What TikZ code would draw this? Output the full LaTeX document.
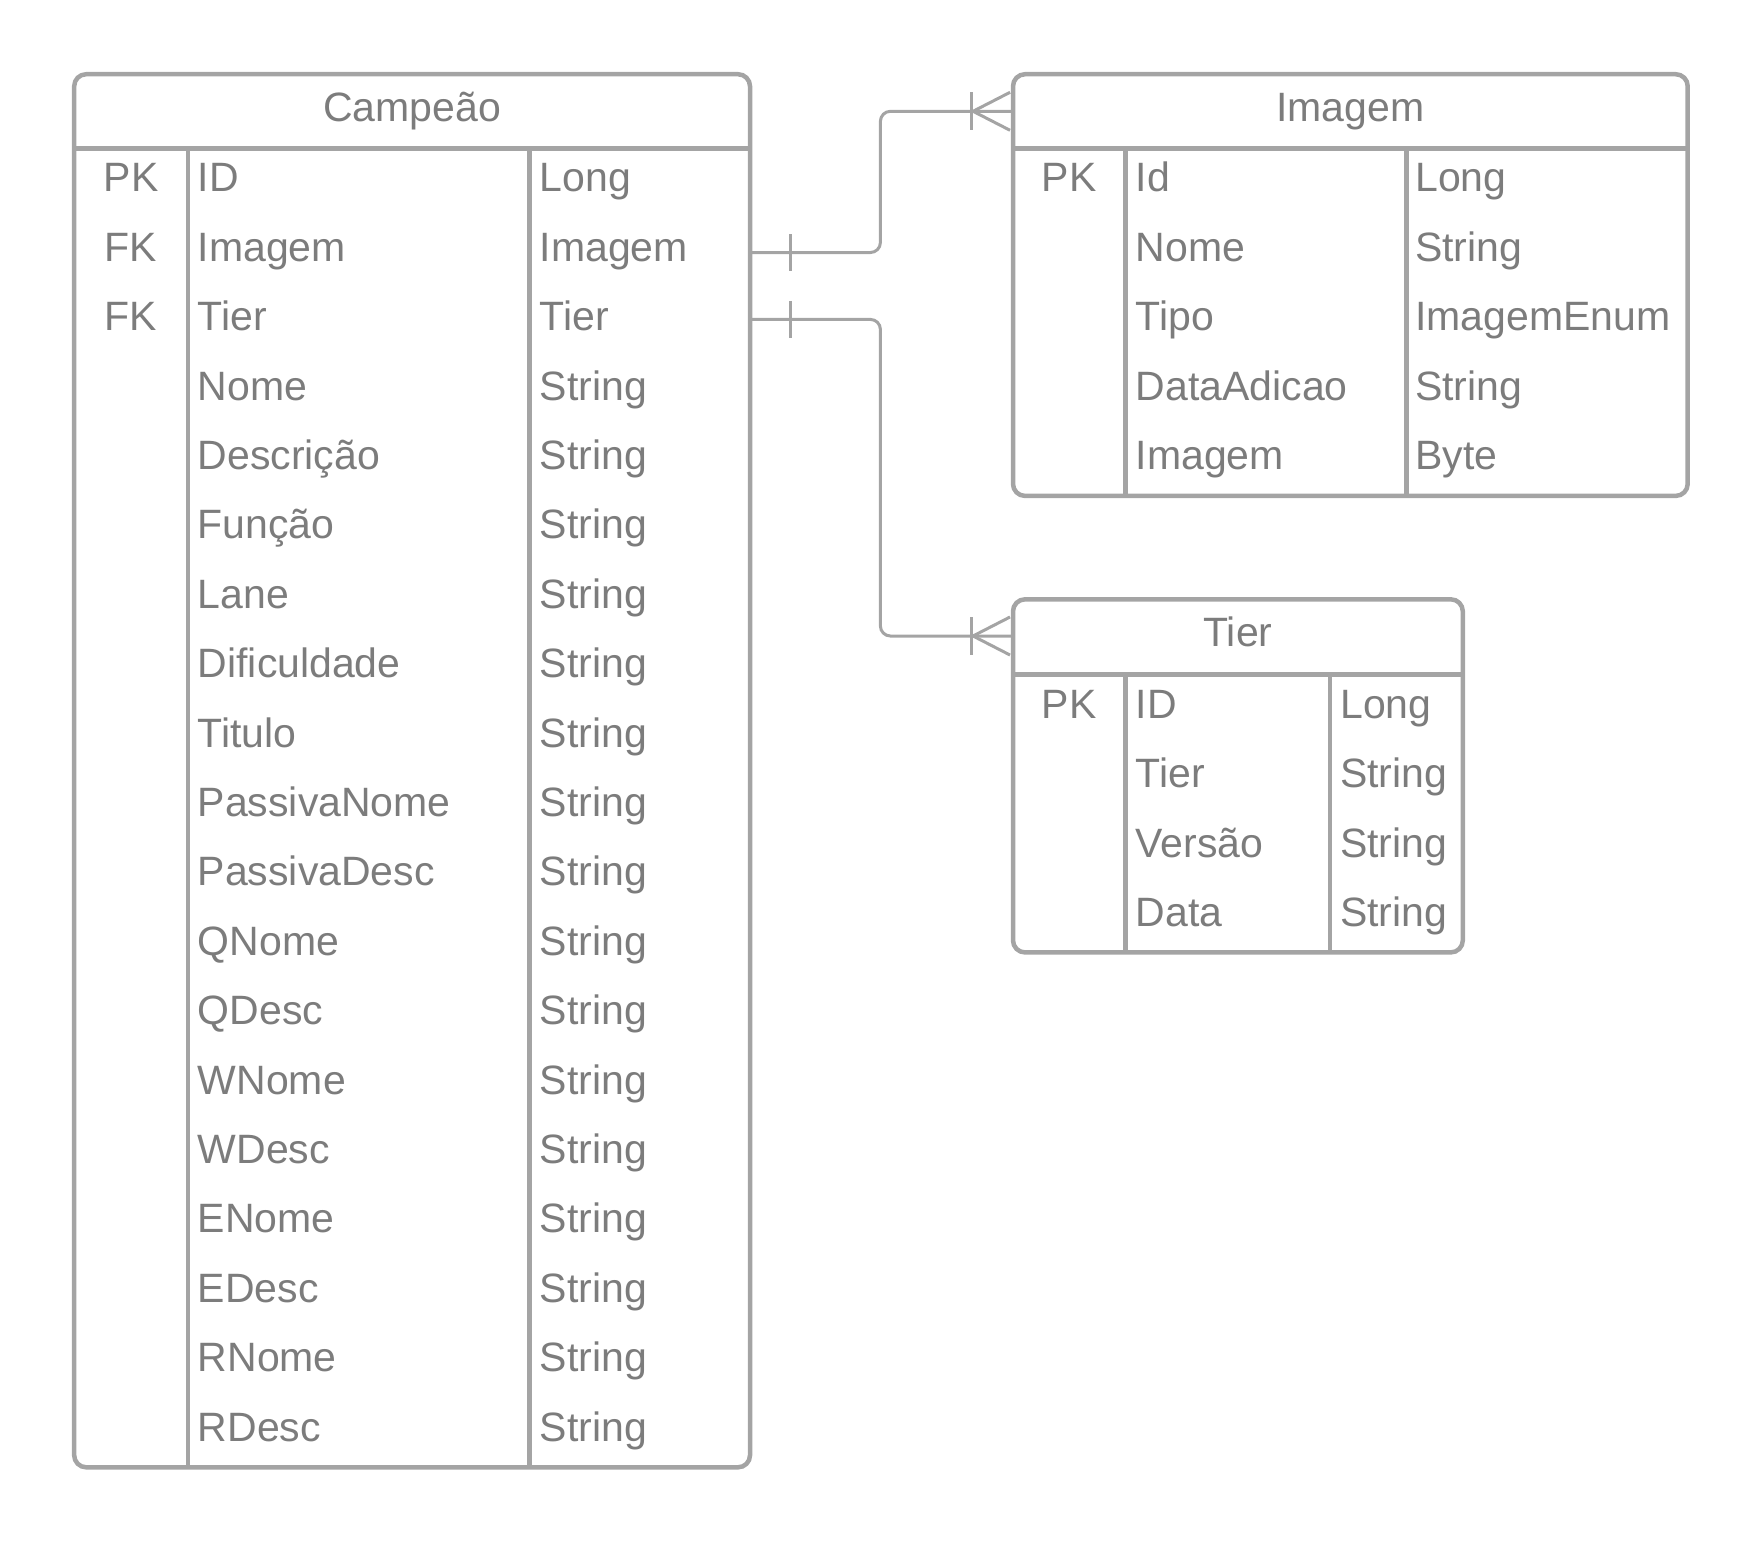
\documentclass[tikz,border=0pt]{standalone}
\usepackage{fontspec}
\setmainfont{Liberation Sans}
\definecolor{linegray}{HTML}{A4A4A4}
\definecolor{textgray}{HTML}{7C7C7C}
\newcommand\erfont{\fontsize{41pt}{49pt}\selectfont}
\tikzset{
  tableline/.style={draw=linegray, line width=4.5pt},
  relline/.style={draw=linegray, line width=3pt},
  rowbox/.style={inner sep=0pt, outer sep=0pt, minimum height=69.4pt},
  cell/.style={text=textgray, font=\erfont, inner sep=0pt, anchor=base west},
  keycell/.style={cell, anchor=base},
  onebar/.pic={\draw[relline] (0,-18.5) -- (0,18.5);},
  crowfoot/.pic={\draw[relline] (-42,-19) -- (-42,19);
    \draw[relline] (-3,-19) -- (-40,0) -- (-3,19);}
}
\begin{document}
\begin{tikzpicture}[x=1pt,y=-1pt]
    \useasboundingbox (0,0) rectangle (1763,1543);

    % Campeao
    \node[rowbox, minimum width=675.8pt, minimum height=74.2pt] (camp-head) at (412.1,111.3) {};
    \node[keycell] (camp-title) at (412.1,121.4) {Campeão};
    \foreach \k/\n/\t [count=\i] in {PK/ID/Long, FK/Imagem/Imagem, FK/Tier/Tier,
        /Nome/String, /Descrição/String, /Função/String, /Lane/String,
        /Dificuldade/String, /Titulo/String, /PassivaNome/String,
        /PassivaDesc/String, /QNome/String, /QDesc/String, /WNome/String,
        /WDesc/String, /ENome/String, /EDesc/String, /RNome/String, /RDesc/String}{
        \pgfmathsetmacro\yc{148.4+(\i-0.5)*69.4}
        \node[rowbox, minimum width=675.8pt] (camp-\i) at (412.1,\yc) {};
        \node[keycell] (camp-k\i) at (131,\yc+8.8) {\k};
        \node[cell] (camp-n\i) at (197.6,\yc+8.8) {\n};
        \node[cell] (camp-t\i) at (539.6,\yc+8.8) {\t};
    }
    \draw[tableline, rounded corners=12pt] (74.2,74.2) rectangle (750,1467.3);
    \draw[tableline] (74.2,148.4) -- (750,148.4);
    \draw[tableline] (187.8,148.4) -- (187.8,1467.3);
    \draw[tableline] (529.6,148.4) -- (529.6,1467.3);

    % Imagem
    \node[rowbox, minimum width=674.7pt, minimum height=74.2pt] (img-head) at (1350.4,111.3) {};
    \node[keycell] (img-title) at (1350.4,121.4) {Imagem};
    \foreach \k/\n/\t [count=\i] in {PK/Id/Long, /Nome/String, /Tipo/ImagemEnum,
        /DataAdicao/String, /Imagem/Byte}{
        \pgfmathsetmacro\yc{148.4+(\i-0.5)*69.5}
        \node[rowbox, minimum width=674.7pt] (img-\i) at (1350.4,\yc) {};
        \node[keycell] (img-k\i) at (1069,\yc+8.8) {\k};
        \node[cell] (img-n\i) at (1135.5,\yc+8.8) {\n};
        \node[cell] (img-t\i) at (1415,\yc+8.8) {\t};
    }
    \draw[tableline, rounded corners=12pt] (1013,74.2) rectangle (1687.7,495.9);
    \draw[tableline] (1013,148.4) -- (1687.7,148.4);
    \draw[tableline] (1125.5,148.4) -- (1125.5,495.9);
    \draw[tableline] (1406.6,148.4) -- (1406.6,495.9);

    % Tier
    \node[rowbox, minimum width=449.8pt, minimum height=75.3pt] (tier-head) at (1237.9,636) {};
    \node[keycell] (tier-title) at (1237.9,646.8) {Tier};
    \foreach \k/\n/\t [count=\i] in {PK/ID/Long, /Tier/String, /Versão/String, /Data/String}{
        \pgfmathsetmacro\yc{674.6+(\i-0.5)*69.45}
        \node[rowbox, minimum width=449.8pt] (tier-\i) at (1237.9,\yc) {};
        \node[keycell] (tier-k\i) at (1069,\yc+8.8) {\k};
        \node[cell] (tier-n\i) at (1135.5,\yc+8.8) {\n};
        \node[cell] (tier-t\i) at (1340,\yc+8.8) {\t};
    }
    \draw[tableline, rounded corners=12pt] (1013,599.3) rectangle (1462.8,952.4);
    \draw[tableline] (1013,674.6) -- (1462.8,674.6);
    \draw[tableline] (1125.5,674.6) -- (1125.5,952.4);
    \draw[tableline] (1330,674.6) -- (1330,952.4);

    % relations
    \coordinate (jn) at (880.4,0);
    \draw[relline, rounded corners=10pt] (camp-2.east) -- (camp-2.east -| jn) |- (img-head.west);
    \draw[relline, rounded corners=10pt] ([yshift=2.5pt]camp-3.east) -- ([yshift=2.5pt]camp-3.east -| jn) |- (tier-head.west);
    \pic at ([xshift=40.5pt]camp-2.east) {onebar};
    \pic at ([xshift=40.5pt,yshift=2.5pt]camp-3.east) {onebar};
    \pic at (img-head.west) {crowfoot};
    \pic at (tier-head.west) {crowfoot};
\end{tikzpicture}
\end{document}
